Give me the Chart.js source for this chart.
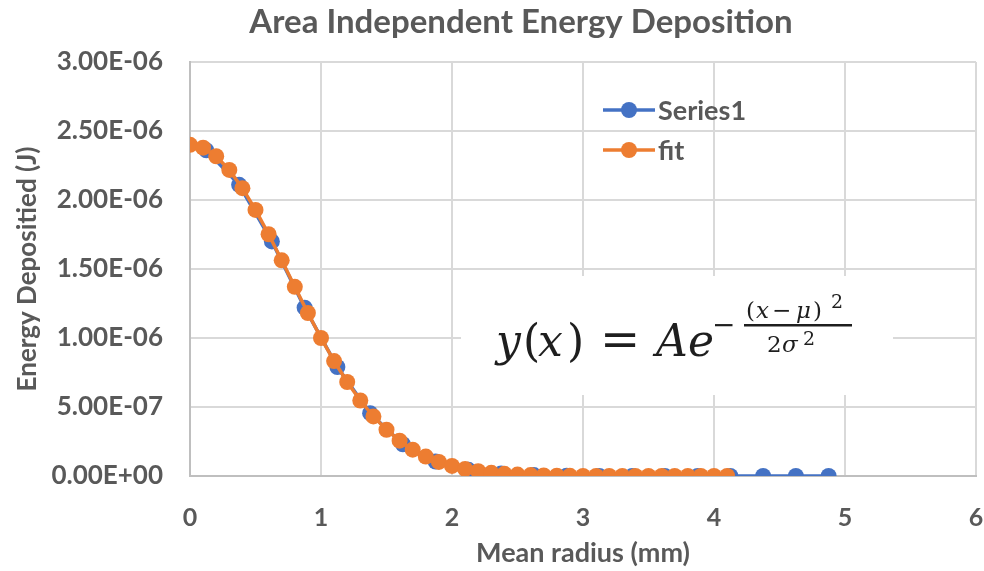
<!DOCTYPE html>
<html>
<head>
<meta charset="utf-8">
<script src="https://cdn.jsdelivr.net/npm/chart.js@4.4.1/dist/chart.umd.min.js"></script>
<style>
  html, body { margin: 0; padding: 0; background: #ffffff; }
  #wrap { width: 984px; height: 571px; position: relative; }
</style>
</head>
<body>
<div id="wrap"><canvas id="c" width="984" height="571"></canvas></div>
<script>
// ---- data ----
const chartTitle = 'Area Independent Energy Deposition';
const xAxisTitle = 'Mean radius (mm)';
const yAxisTitle = 'Energy Depositied (J)';
const seriesNames = ['Series1', 'fit'];

// Series1: measured points
const series1Radius = [0.125, 0.375, 0.625, 0.875, 1.125, 1.375, 1.625, 1.875, 2.125, 2.375,
                       2.625, 2.875, 3.125, 3.375, 3.625, 3.875, 4.125, 4.375, 4.625, 4.875];
const series1Energy = [2.36e-6, 2.11e-6, 1.70e-6, 1.22e-6, 7.9e-7, 4.55e-7, 2.3e-7, 1.05e-7, 4.5e-8, 1.8e-8,
                       6.5e-9, 2.0e-9, 6e-10, 1.5e-10, 0, 0, 0, 0, 0, 0];

// fit points
const fitRadius = [0.0, 0.1, 0.2, 0.3, 0.4, 0.5, 0.6, 0.7, 0.8, 0.9,
                   1.0, 1.1, 1.2, 1.3, 1.4, 1.5, 1.6, 1.7, 1.8, 1.9,
                   2.0, 2.1, 2.2, 2.3, 2.4, 2.5, 2.6, 2.7, 2.8, 2.9,
                   3.0, 3.1, 3.2, 3.3, 3.4, 3.5, 3.6, 3.7, 3.8, 3.9,
                   4.0, 4.1];
const fitEnergy = [2.400e-6, 2.379e-6, 2.317e-6, 2.218e-6, 2.086e-6, 1.928e-6, 1.752e-6, 1.563e-6, 1.371e-6, 1.181e-6,
                   1.000e-6, 8.33e-7, 6.81e-7, 5.47e-7, 4.32e-7, 3.35e-7, 2.56e-7, 1.91e-7, 1.41e-7, 1.02e-7,
                   7.3e-8, 5.1e-8, 3.5e-8, 2.3e-8, 1.6e-8, 1.0e-8, 6.5e-9, 4.1e-9, 2.5e-9, 1.5e-9,
                   9e-10, 5e-10, 3e-10, 1e-10, 0, 0, 0, 0, 0, 0,
                   0, 0];

const xTickMin = 0, xTickMax = 6, xTickStep = 1;
const yTickMin = 0, yTickMax = 3.0e-6, yTickStep = 5.0e-7;

// ---- styles ----
const BLUE = '#4472C4';
const ORANGE = '#ED7D31';
const TEXT = '#595959';
const GRID = '#D9D9D9';
const AXIS = '#BFBFBF';
const FONT = 'Lato, "Open Sans", sans-serif';
const SERIF = '"DejaVu Serif", "Liberation Serif", "Times New Roman", Times, serif';

function fmtExp(v) {
  const s = Number(v).toExponential(2); // e.g. "3.00e-6"
  const [m, e] = s.split('e');
  const sign = e[0] === '-' ? '-' : '+';
  const digits = e.replace(/^[-+]/, '').padStart(2, '0');
  return m + 'E' + sign + digits;
}

const toPoints = (xs, ys) => xs.map((x, i) => ({ x: x, y: ys[i] }));

function txt(ctx, s, x, y, font) {
  ctx.font = font;
  ctx.fillText(s, x, y);
}

const decorPlugin = {
  id: 'decor',
  afterDraw(chart) {
    const ctx = chart.ctx;
    ctx.save();
    // Title
    ctx.fillStyle = TEXT;
    ctx.font = 'bold 33px ' + FONT;
    ctx.textAlign = 'center';
    ctx.textBaseline = 'middle';
    ctx.fillText(chartTitle, 521, 22);

    // Legend (inside plot area, top right)
    const legendItems = [
      { name: seriesNames[0], color: BLUE, y: 110 },
      { name: seriesNames[1], color: ORANGE, y: 150 }
    ];
    legendItems.forEach(it => {
      ctx.strokeStyle = it.color;
      ctx.lineWidth = 3.5;
      ctx.beginPath();
      ctx.moveTo(603, it.y);
      ctx.lineTo(655, it.y);
      ctx.stroke();
      ctx.fillStyle = it.color;
      ctx.beginPath();
      ctx.arc(629, it.y, 8, 0, Math.PI * 2);
      ctx.fill();
      ctx.fillStyle = TEXT;
      ctx.font = 'bold 27px ' + FONT;
      ctx.textAlign = 'left';
      ctx.textBaseline = 'middle';
      ctx.fillText(it.name, 658, it.y + 1);
    });

    // Formula box
    ctx.fillStyle = '#ffffff';
    ctx.fillRect(461, 276, 432, 119);
    ctx.fillStyle = '#1e1e1e';
    ctx.textBaseline = 'alphabetic';
    ctx.textAlign = 'left';
    const bigI = 'italic 44px ' + SERIF;
    const bigR = '44px ' + SERIF;
    txt(ctx, 'y', 496, 356, bigI);
    txt(ctx, '(', 523, 356, bigR);
    txt(ctx, 'x', 538, 356, bigI);
    txt(ctx, ')', 567, 356, bigR);
    txt(ctx, '=', 600, 356, '48px ' + SERIF);
    txt(ctx, 'A', 656, 356, bigI);
    txt(ctx, 'e', 688, 356, bigI);
    txt(ctx, '\u2212', 712, 334, '28px ' + SERIF);
    // numerator
    const smI = 'italic 23px ' + SERIF;
    const smR = '23px ' + SERIF;
    txt(ctx, '(', 746, 318, smR);
    txt(ctx, 'x', 756, 318, smI);
    txt(ctx, '\u2212', 772, 318, smR);
    txt(ctx, '\u03BC', 796, 318, smI);
    txt(ctx, ')', 813, 318, smR);
    txt(ctx, '2', 831, 308, '19px ' + SERIF);
    // fraction bar
    ctx.fillRect(744, 324, 108, 2.5);
    // denominator
    txt(ctx, '2', 767, 352, smR);
    txt(ctx, '\u03C3', 782, 352, smI);
    txt(ctx, '2', 803, 345, '19px ' + SERIF);
    ctx.restore();
  }
};

new Chart(document.getElementById('c'), {
  type: 'scatter',
  data: {
    datasets: [
      {
        label: seriesNames[0],
        data: toPoints(series1Radius, series1Energy),
        showLine: true,
        borderColor: BLUE,
        backgroundColor: BLUE,
        borderWidth: 3.5,
        pointRadius: 8,
        pointBorderWidth: 0,
        pointHoverRadius: 8,
        order: 1
      },
      {
        label: seriesNames[1],
        data: toPoints(fitRadius, fitEnergy),
        showLine: true,
        borderColor: ORANGE,
        backgroundColor: ORANGE,
        borderWidth: 3.5,
        pointRadius: 8,
        pointBorderWidth: 0,
        pointHoverRadius: 8,
        order: 0
      }
    ]
  },
  options: {
    responsive: false,
    animation: false,
    devicePixelRatio: 1,
    layout: { padding: { top: 62, right: 7, left: 0, bottom: 0 } },
    plugins: {
      legend: { display: false },
      title: { display: false },
      tooltip: { enabled: false }
    },
    scales: {
      x: {
        type: 'linear',
        min: xTickMin, max: xTickMax,
        afterFit(scale) { scale.height = 95; scale.paddingLeft = 0; scale.paddingRight = 0; },
        ticks: {
          stepSize: xTickStep,
          color: TEXT,
          padding: 27,
          font: { family: FONT, size: 25, weight: 'bold' }
        },
        grid: { color: GRID, lineWidth: 2, drawTicks: false },
        border: { color: AXIS, width: 2 },
        title: {
          display: true,
          text: xAxisTitle,
          color: TEXT,
          font: { family: FONT, size: 27, weight: 'bold' },
          padding: { top: 0, bottom: 2 }
        }
      },
      y: {
        type: 'linear',
        min: yTickMin, max: yTickMax,
        afterFit(scale) { scale.width = 190; },
        ticks: {
          stepSize: yTickStep,
          color: TEXT,
          padding: 27,
          font: { family: FONT, size: 26, weight: 'bold' },
          callback: (v) => fmtExp(v)
        },
        grid: { color: GRID, lineWidth: 2, drawTicks: false },
        border: { color: AXIS, width: 2 },
        title: {
          display: true,
          text: yAxisTitle,
          color: TEXT,
          font: { family: FONT, size: 26, weight: 'bold' },
          padding: { top: 12, bottom: 0 }
        }
      }
    }
  },
  plugins: [decorPlugin]
});
</script>
</body>
</html>
